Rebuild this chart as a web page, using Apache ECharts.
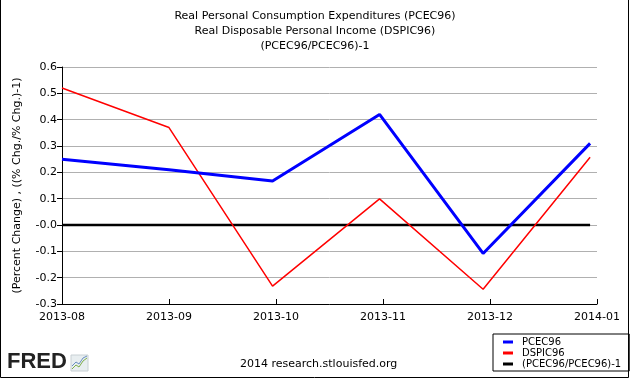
<!DOCTYPE html>
<html><head><meta charset="utf-8">
<script src="https://cdn.jsdelivr.net/npm/echarts@6/dist/echarts.min.js"></script>
<style>html,body{margin:0;padding:0;background:#fff}#c{width:630px;height:378px}</style>
</head><body><div id="c"></div>
<script>
const dates = ['2013-08-01','2013-09-01','2013-10-01','2013-11-01','2013-12-01','2014-01-01'];
const pcec96 = [0.25, 0.21, 0.167, 0.42, -0.108, 0.31];
const dspic96 = [0.52, 0.37, -0.232, 0.099, -0.244, 0.257];
const ratio = [0, 0, 0, 0, 0, 0];
const xTickLabels = ['2013-08','2013-09','2013-10','2013-11','2013-12','2014-01'];
const yTickLabels = {'-0.3':'-0.3','-0.2':'-0.2','-0.1':'-0.1','0.0':'-0.0','0.1':'0.1','0.2':'0.2','0.3':'0.3','0.4':'0.4','0.5':'0.5','0.6':'0.6'};

const t0 = Date.parse(dates[0]);
const dayOf = d => Math.round((Date.parse(d) - t0) / 86400000);
const pts = arr => arr.map((v, i) => [dayOf(dates[i]), v]);
const font = 'DejaVu Sans';

const chart = echarts.init(document.getElementById('c'), null, {renderer: 'canvas'});
chart.setOption({
  animation: false,
  backgroundColor: '#fff',
  title: {
    text: 'Real Personal Consumption Expenditures (PCEC96)\nReal Disposable Personal Income (DSPIC96)\n(PCEC96/PCEC96)-1',
    left: 310, top: 4, textAlign: 'center',
    textStyle: {fontFamily: font, fontSize: 11, fontWeight: 'normal', color: '#000', lineHeight: 15}
  },
  grid: {left: 62, right: 33, top: 67, bottom: 74, containLabel: false},
  xAxis: {
    type: 'value', min: 0, max: 155, interval: 31,
    axisLine: {onZero: false, lineStyle: {color: '#000', width: 1}},
    axisTick: {inside: true, length: 5, lineStyle: {color: '#000'}},
    splitLine: {show: false},
    axisLabel: {
      fontFamily: font, fontSize: 11, color: '#000', margin: 8,
      formatter: v => xTickLabels[Math.round(v / 31)] || ''
    }
  },
  yAxis: {
    type: 'value', min: -0.3, max: 0.6, interval: 0.1,
    name: '(Percent Change) , ((% Chg./% Chg.)-1)',
    nameLocation: 'middle', nameRotate: 90, nameGap: 39,
    nameTextStyle: {fontFamily: font, fontSize: 11, color: '#000'},
    axisLine: {show: true, lineStyle: {color: '#000', width: 1}},
    axisTick: {show: true, length: 5, lineStyle: {color: '#000'}},
    splitLine: {lineStyle: {color: '#b0b0b0', width: 1}},
    axisLabel: {
      fontFamily: font, fontSize: 11, color: '#000', margin: 5,
      formatter: v => yTickLabels[(Math.round(v * 10) / 10).toFixed(1)] || ''
    }
  },
  legend: {
    orient: 'vertical', left: 493, top: 334,
    padding: [3, 8, 2, 10], itemGap: 1,
    itemWidth: 10, itemHeight: 3, icon: 'rect',
    borderColor: '#000', borderWidth: 1,
    textStyle: {fontFamily: font, fontSize: 10, color: '#000', padding: [0, 0, 0, 4]},
    data: ['PCEC96', 'DSPIC96', '(PCEC96/PCEC96)-1']
  },
  series: [
    {name: '(PCEC96/PCEC96)-1', type: 'line', data: pts(ratio), symbol: 'none', color: '#000',
     lineStyle: {color: '#000', width: 2.5}, z: 1},
    {name: 'DSPIC96', type: 'line', data: pts(dspic96), symbol: 'none', color: '#ff0000',
     lineStyle: {color: '#ff0000', width: 1.5}, z: 2},
    {name: 'PCEC96', type: 'line', data: pts(pcec96), symbol: 'none', color: '#0000ff',
     lineStyle: {color: '#0000ff', width: 3}, z: 3}
  ],
  graphic: [
    {type: 'polyline', shape: {points: [[0.5, 0], [0.5, 377.5], [628.5, 377.5], [628.5, 0]]},
     style: {stroke: '#000', fill: null, lineWidth: 1}},
    {type: 'text', left: 7, top: 351,
     style: {text: 'FRED', font: 'bold 22px "Liberation Sans", Arial', fill: '#222'}},
    {type: 'rect', shape: {x: 71, y: 355, width: 17, height: 16},
     style: {fill: '#e8eef0', stroke: '#c8d0d4', lineWidth: 1}},
    {type: 'polyline', shape: {points: [[72, 369], [76, 365], [79, 367], [83, 361], [87, 358]]},
     style: {stroke: '#7fae4a', lineWidth: 1, fill: null}},
    {type: 'polyline', shape: {points: [[72, 366], [76, 362], [79, 364], [83, 358], [87, 356]]},
     style: {stroke: '#6a8fc0', lineWidth: 1, fill: null}},
    {type: 'text', left: 240, top: 359,
     style: {text: '2014 research.stlouisfed.org', font: '11px "DejaVu Sans"', fill: '#000'}}
  ]
});
</script></body></html>
